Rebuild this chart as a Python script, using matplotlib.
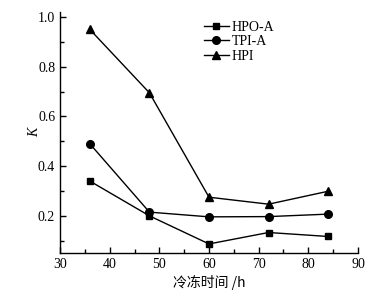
import matplotlib
matplotlib.use("Agg")
import matplotlib.pyplot as plt
from matplotlib.ticker import MultipleLocator

# data
hours = [36, 48, 60, 72, 84]
hpo_a = [0.34, 0.20, 0.087, 0.133, 0.117]
tpi_a = [0.49, 0.215, 0.196, 0.197, 0.207]
hpi = [0.95, 0.695, 0.275, 0.247, 0.299]

plt.rcParams['font.family'] = ['Liberation Serif', 'Noto Sans CJK SC']
plt.rcParams['font.size'] = 10

fig = plt.figure(figsize=(3.8, 2.94), dpi=100)
ax = fig.add_axes([0.158, 0.139, 0.784, 0.82])

ax.plot(hours, hpo_a, color='black', lw=1, marker='s', ms=5, label='HPO-A')
ax.plot(hours, tpi_a, color='black', lw=1, marker='o', ms=5.5, label='TPI-A')
ax.plot(hours, hpi, color='black', lw=1, marker='^', ms=6, label='HPI')

ax.set_xlim(30, 90)
ax.set_ylim(0.05, 1.02)
ax.xaxis.set_major_locator(MultipleLocator(10))
ax.xaxis.set_minor_locator(MultipleLocator(5))
ax.yaxis.set_minor_locator(MultipleLocator(0.1))
ax.set_yticks([0.2, 0.4, 0.6, 0.8, 1.0])
ax.set_yticklabels(['0.2', '0.4', '0.6', '0.8', '1.0'])
ax.tick_params(which='both', direction='in', width=1)
ax.tick_params(which='major', length=4)
ax.tick_params(which='minor', length=3)

for s in ['top', 'right']:
    ax.spines[s].set_visible(False)
for s in ['left', 'bottom']:
    ax.spines[s].set_linewidth(1)

ax.set_xlabel('冷冻时间 /h', family=['Noto Sans CJK SC'], fontsize=10, labelpad=3)
ax.set_ylabel('K', style='italic', fontsize=10, labelpad=-2)

ax.legend(loc='upper left', bbox_to_anchor=(0.44, 1.015), frameon=False,
          handlelength=1.8, handletextpad=0.2, labelspacing=0.1, fontsize=10)

fig.savefig('out.png', dpi=100)
